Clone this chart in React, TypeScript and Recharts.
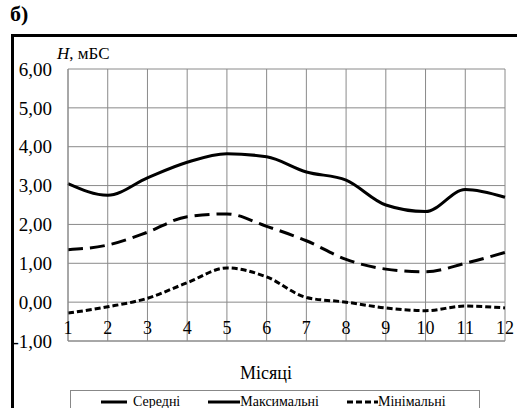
import React from 'react'
import { LineChart, Line, XAxis, YAxis, CartesianGrid } from 'recharts'

const months = [1, 2, 3, 4, 5, 6, 7, 8, 9, 10, 11, 12]
const meanLevel = [1.35, 1.47, 1.8, 2.2, 2.27, 1.95, 1.58, 1.1, 0.85, 0.78, 1.0, 1.28]
const maxLevel = [3.05, 2.75, 3.2, 3.6, 3.82, 3.74, 3.35, 3.14, 2.5, 2.33, 2.9, 2.7]
const minLevel = [-0.28, -0.12, 0.1, 0.5, 0.88, 0.65, 0.12, 0.0, -0.15, -0.22, -0.1, -0.15]
const yTicks = [-1, 0, 1, 2, 3, 4, 5, 6]

const data = months.map((m, i) => ({
  month: m,
  mean: meanLevel[i],
  max: maxLevel[i],
  min: minLevel[i],
}))

const serif = '"Times New Roman", "Liberation Serif", "DejaVu Serif", serif'

const legendItems = [
  { name: 'Середні', dash: undefined, len: 26, gap: 6 },
  { name: 'Максимальні', dash: undefined, len: 32, gap: 0 },
  { name: 'Мінімальні', dash: '6 3', len: 31, gap: 0 },
]

function LegendBox() {
  return (
    <div
      style={{
        position: 'absolute',
        left: 70,
        top: 390,
        width: 410,
        border: '1px solid #888',
        height: 30,
        display: 'flex',
        alignItems: 'flex-start',
        paddingTop: 3,
        fontSize: 14,
        boxSizing: 'border-box',
      }}
    >
      {legendItems.map((it, i) => (
        <div
          key={it.name}
          style={{ display: 'flex', alignItems: 'center', marginLeft: i === 0 ? 30 : 28 }}
        >
          <svg width={it.len} height={10} style={{ marginRight: it.gap }}>
            <line x1={0} y1={5} x2={it.len} y2={5} stroke="#000" strokeWidth={3} strokeDasharray={it.dash} />
          </svg>
          <span>{it.name}</span>
        </div>
      ))}
    </div>
  )
}

function XTick(props: any) {
  const { x, y, payload } = props
  return (
    <text x={x} y={y - 7} textAnchor="middle" style={{ fontFamily: serif, fontSize: 18 }} fill="#000">
      {payload.value}
    </text>
  )
}

export default function App() {
  return (
    <div style={{ position: 'absolute', left: 0, top: 0, width: 517, height: 408, background: '#fff', overflow: 'hidden', fontFamily: serif }}>
      <div style={{ position: 'absolute', left: 10, top: 1, fontWeight: 'bold', fontSize: 22 }}>б)</div>
      <div
        style={{
          position: 'absolute',
          left: 11,
          top: 34,
          width: 530,
          height: 400,
          borderLeft: '3px solid #000',
          borderTop: '3px solid #000',
        }}
      />
      <div style={{ position: 'absolute', left: 57, top: 44, fontSize: 17 }}>
        <i>H</i>, мБС
      </div>
      <div style={{ position: 'absolute', left: 240, top: 363, fontSize: 18 }}>Місяці</div>
      <LegendBox />
      <LineChart
        width={517}
        height={408}
        data={data}
        margin={{ top: 69, right: 12, left: 8, bottom: 0 }}
        style={{ position: 'absolute', left: 0, top: 0, fontFamily: serif }}
      >
        <CartesianGrid stroke="#8a8a8a" strokeWidth={1} />
        <XAxis
          dataKey="month"
          type="number"
          domain={[1, 12]}
          ticks={months}
          height={67}
          tickSize={0}
          tickMargin={0}
          tickLine={false}
          axisLine={{ stroke: '#8a8a8a' }}
          tick={<XTick />}
          interval={0}
        />
        <YAxis
          width={60}
          domain={[-1, 6]}
          ticks={yTicks}
          tickSize={0}
          tickMargin={16}
          tickLine={false}
          axisLine={{ stroke: '#8a8a8a' }}
          tickFormatter={(v: number) => v.toFixed(2).replace('.', ',')}
          tick={{ fontFamily: serif, fontSize: 19, fill: '#000' }}
          interval={0}
        />
        <Line type="monotone" dataKey="mean" name="Середні" stroke="#000" strokeWidth={3} strokeDasharray="15 7" dot={false} isAnimationActive={false} />
        <Line type="monotone" dataKey="max" name="Максимальні" stroke="#000" strokeWidth={3} dot={false} isAnimationActive={false} />
        <Line type="monotone" dataKey="min" name="Мінімальні" stroke="#000" strokeWidth={3} strokeDasharray="6 3" dot={false} isAnimationActive={false} />
      </LineChart>
    </div>
  )
}
